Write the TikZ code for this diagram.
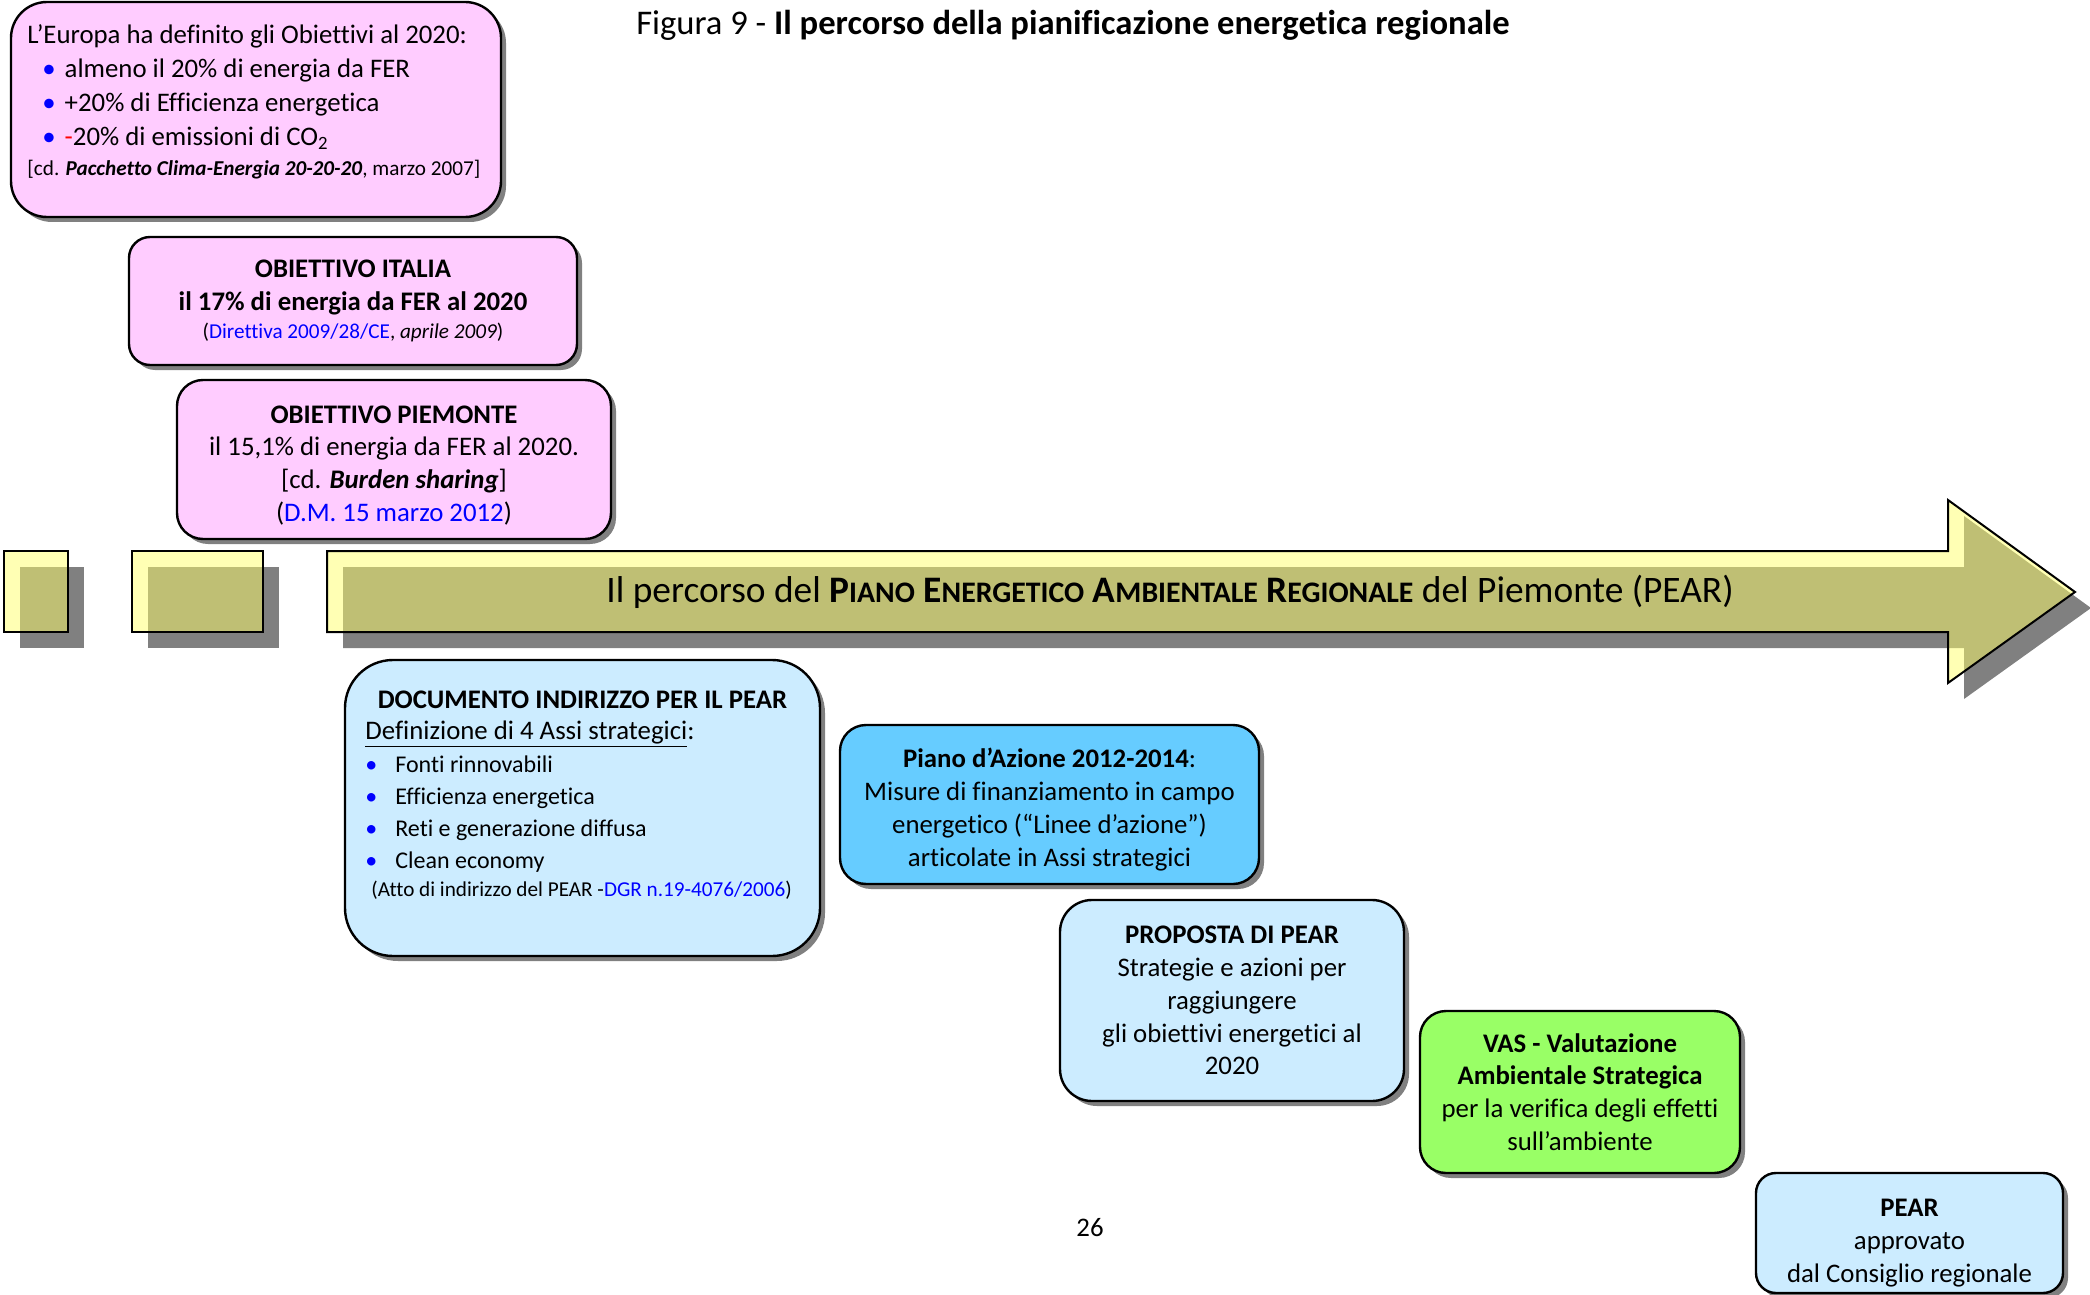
\documentclass[tikz,border=0pt]{standalone}
\usepackage{fontspec}
\setmainfont{Carlito}[Ligatures=CommonOff]
\usetikzlibrary{shadows}

\definecolor{pinkbox}{RGB}{255,204,255}
\definecolor{paleblue}{RGB}{204,236,255}
\definecolor{skyblue}{RGB}{102,204,255}
\definecolor{limegreen}{RGB}{153,255,102}
\definecolor{shadowgray}{RGB}{128,128,128}
\definecolor{paleyellow}{RGB}{255,255,105}
\definecolor{linkblue}{RGB}{0,0,255}

\newcommand{\smallcap}[2]{#1{\fontsize{14.9}{16}\selectfont#2}}
\newcommand{\dotblue}{{\color{linkblue}\textbullet}}
\newcommand{\lift}[1]{\rule{0pt}{#1}}

\tikzset{
  stepbox/.style={draw, line width=1.2pt, align=center, inner sep=0pt,
    font=\fontsize{13.4}{16.4}\selectfont,
    drop shadow={shadow xshift=2.5pt, shadow yshift=-2.5pt, fill=shadowgray, opacity=1}},
  tilebox/.style={draw, line width=1pt, fill=paleyellow, fill opacity=0.5, inner sep=0pt,
    drop shadow={shadow xshift=8pt, shadow yshift=-8pt, fill=shadowgray, opacity=1}},
  bodytext/.style={inner sep=0pt, align=left, font=\fontsize{13.4}{17}\selectfont}
}

\begin{document}
\begin{tikzpicture}[x=0.5pt, y=-0.5pt]
  \useasboundingbox (0,0) rectangle (2090,1295);

  % title and page number
  \node[font=\fontsize{17.3}{20}\selectfont] (title) at (1073,25)
    {Figura 9 - \textbf{Il percorso della pianificazione energetica regionale}};
  \node[font=\fontsize{13.4}{16}\selectfont] (pagenum) at (1090,1228) {26};

  % obiettivi (pink boxes)
  \node[stepbox, fill=pinkbox, minimum width=245pt, minimum height=107.5pt,
    rounded corners=18pt] (europa) at (256,109.5) {};
  \node[bodytext, anchor=north west] (europatext) at (27,24)
    {L’Europa ha definito gli Obiettivi al 2020:\\
     \hspace*{7.5pt}\dotblue\hspace{4.5pt}almeno il 20\% di energia da FER\\
     \hspace*{7.5pt}\dotblue\hspace{4.5pt}+20\% di Efficienza energetica\\
     \hspace*{7.5pt}\dotblue\hspace{4.5pt}{\color{red}-}20\% di emissioni di CO\textsubscript{2}\\[-2pt]
     {\fontsize{10.6}{13}\selectfont[cd. \textbf{\textit{Pacchetto Clima-Energia 20-20-20}}, marzo 2007]}};

  \node[stepbox, fill=pinkbox, minimum width=224pt, minimum height=64pt,
    rounded corners=10.5pt] (italia) at (353,301)
    {\textbf{OBIETTIVO ITALIA}\\
     \textbf{il 17\% di energia da FER al 2020}\\[-2.6pt]
     {\fontsize{10.6}{13}\selectfont(\textcolor{linkblue}{Direttiva 2009/28/CE}, \textit{aprile 2009})}};

  \node[stepbox, fill=pinkbox, minimum width=217pt, minimum height=79.5pt,
    rounded corners=13pt] (piemonte) at (394,459.5)
    {\lift{14.7pt}\textbf{OBIETTIVO PIEMONTE}\\
     il 15,1\% di energia da FER al 2020.\\
     {}[cd. \textbf{\textit{Burden sharing}}]\\
     (\textcolor{linkblue}{D.M. 15 marzo 2012})};

  % time line
  \node[tilebox, minimum width=32pt, minimum height=40.5pt] (tilea) at (36,591.5) {};
  \node[tilebox, minimum width=65.5pt, minimum height=40.5pt] (tileb) at (197.5,591.5) {};
  \fill[shadowgray, shift={(16,16)}] (327,551) -- (1948,551) -- (1948,500) -- (2075,592)
    -- (1948,683) -- (1948,632) -- (327,632) -- cycle;
  \draw[line width=1pt, fill=paleyellow, fill opacity=0.5] (327,551) -- (1948,551) -- (1948,500)
    -- (2075,592) -- (1948,683) -- (1948,632) -- (327,632) -- cycle;
  \node[font=\fontsize{18.7}{22}\selectfont] (arrowtext) at (1170,592)
    {Il percorso del \textbf{\smallcap{P}{IANO} \smallcap{E}{NERGETICO} \smallcap{A}{MBIENTALE}
     \smallcap{R}{EGIONALE}} del Piemonte (PEAR)};

  % fasi del piano
  \node[stepbox, fill=paleblue, minimum width=237.5pt, minimum height=148pt,
    rounded corners=24pt] (documento) at (582.5,808) {};
  \node[font=\fontsize{13.4}{16}\selectfont\bfseries] (doctitle) at (582.5,700)
    {DOCUMENTO INDIRIZZO PER IL PEAR};
  \node[bodytext, anchor=north west] (doctext) at (365,720)
    {\underline{Definizione di 4 Assi strategici}:\\[-0.5pt]
     {\fontsize{12}{15.5}\selectfont\dotblue\hspace{9pt}Fonti rinnovabili}\\[-1pt]
     {\fontsize{12}{15.5}\selectfont\dotblue\hspace{9pt}Efficienza energetica}\\[-1pt]
     {\fontsize{12}{15.5}\selectfont\dotblue\hspace{9pt}Reti e generazione diffusa}\\[-1pt]
     {\fontsize{12}{15.5}\selectfont\dotblue\hspace{9pt}Clean economy}\\[-3pt]
     {\fontsize{10.6}{13}\selectfont\hspace*{3pt}(Atto di indirizzo del PEAR -\textcolor{linkblue}{DGR n.19-4076/2006})}};

  \node[stepbox, fill=skyblue, minimum width=209.5pt, minimum height=79.5pt,
    rounded corners=13pt] (azione) at (1049.5,804.5)
    {\lift{14.7pt}\textbf{Piano d’Azione 2012-2014}:\\
     Misure di finanziamento in campo\\
     energetico (“Linee d’azione”)\\
     articolate in Assi strategici};

  \node[stepbox, fill=paleblue, minimum width=172pt, minimum height=100.5pt,
    rounded corners=16pt] (proposta) at (1232,1000.5)
    {\textbf{PROPOSTA DI PEAR}\\
     Strategie e azioni per\\
     raggiungere\\
     gli obiettivi energetici al\\
     2020};

  \node[stepbox, fill=limegreen, minimum width=160pt, minimum height=81pt,
    rounded corners=13pt] (vas) at (1580,1092)
    {\textbf{VAS - Valutazione}\\
     \textbf{Ambientale Strategica}\\
     per la verifica degli effetti\\
     sull’ambiente};

  \node[stepbox, fill=paleblue, minimum width=153.5pt, minimum height=60pt,
    rounded corners=10pt] (pear) at (1909.5,1233)
    {\lift{18.7pt}\textbf{PEAR}\\
     approvato\\
     dal Consiglio regionale};
\end{tikzpicture}
\end{document}
